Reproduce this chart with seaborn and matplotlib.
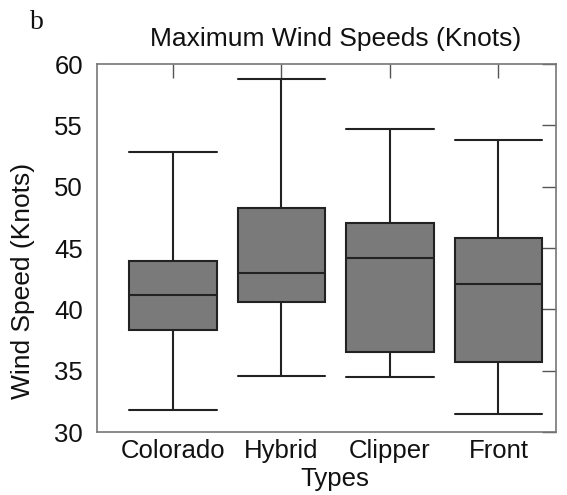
import numpy as np
import pandas as pd
import matplotlib
matplotlib.use("Agg")
import matplotlib.pyplot as plt
import seaborn as sns

categories = ["Colorado", "Hybrid", "Clipper", "Front"]
# five-number summaries: whisker low, Q1, median, Q3, whisker high
colorado = [31.8, 38.3, 41.2, 43.9, 52.8]
hybrid = [34.6, 40.6, 43.0, 48.3, 58.8]
clipper = [34.5, 36.5, 44.2, 47.0, 54.7]
front = [31.5, 35.7, 42.1, 45.8, 53.8]
yticks = [30, 35, 40, 45, 50, 55, 60]

series = [colorado, hybrid, clipper, front]
df = pd.DataFrame({
    "Types": np.repeat(categories, [len(s) for s in series]),
    "Wind Speed (Knots)": np.concatenate(series),
})

sns.set_style("white")
plt.rcParams['font.family'] = ['Liberation Sans', 'DejaVu Sans']

fig = plt.figure(figsize=(5.67, 4.95), dpi=100)
ax = fig.add_axes([97/567, 1 - 432/495, (556 - 97)/567, (432 - 64)/495])

line_c = "#222222"
sns.boxplot(data=df, x="Types", y="Wind Speed (Knots)", order=categories,
            color="#7a7a7a", saturation=1, width=0.81, whis=np.inf,
            linecolor=line_c, linewidth=1.5, capwidths=0.81, ax=ax)
for p in ax.patches:
    p.set_facecolor("#7a7a7a")
    p.set_edgecolor(line_c)

ax.set_ylim(30, 60)
ax.set_xlim(-0.70, 3.53)
ax.set_yticks(yticks)
ax.set_yticklabels([str(t) for t in yticks])
ax.tick_params(axis="both", direction="in", length=10, width=1.0, color="#555555",
               top=True, right=True, labelsize=18.5, labelcolor="#111111")
ax.tick_params(axis="x", pad=5)
ax.tick_params(axis="y", pad=10)
for s in ax.spines.values():
    s.set_visible(True)
    s.set_color("#777777")
    s.set_linewidth(1.2)

ax.set_title("Maximum Wind Speeds (Knots)", fontsize=19, pad=13, color="#111111",
             x=0.52)
ax.set_xlabel("Types", fontsize=18.5, color="#111111")
ax.set_ylabel("Wind Speed (Knots)", fontsize=19, color="#111111")
ax.xaxis.set_label_coords(0.518, -0.095)
ax.yaxis.set_label_coords(-0.135, 0.41)
fig.text(30/567, 1 - 29/495, "b", fontsize=20, family=["Liberation Serif", "DejaVu Serif"],
         ha="left", va="baseline", color="#111111")

fig.savefig("out.png", dpi=100)
